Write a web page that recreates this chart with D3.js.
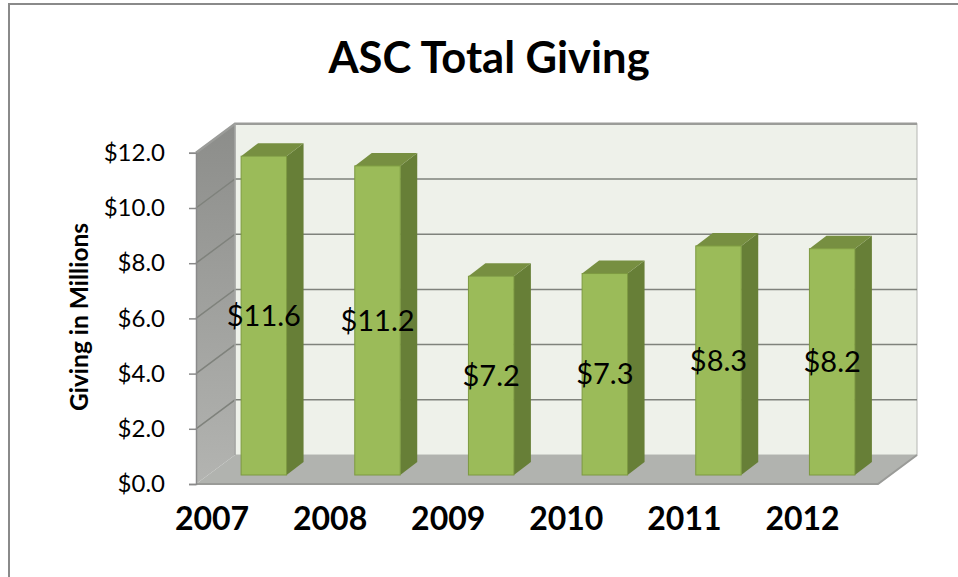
<!DOCTYPE html>
<html>
<head>
<meta charset="utf-8">
<script src="https://cdnjs.cloudflare.com/ajax/libs/d3/7.8.5/d3.min.js"></script>
<style>
  html, body { margin: 0; padding: 0; background: #fff; overflow: hidden; }
  svg { display: block; }
  text { font-family: Lato, "Open Sans", sans-serif; fill: #000; }
</style>
</head>
<body>
<svg id="chart" width="958" height="577"></svg>
<script>
var years = ["2007", "2008", "2009", "2010", "2011", "2012"];
var giving = [11.55, 11.2, 7.2, 7.3, 8.3, 8.2];
var yTicks = [0, 2, 4, 6, 8, 10, 12];

var svg = d3.select("#chart");

// plot box, front left corner of the 3d floor
var left = 196, right = 878, bottom = 484, top_ = 152.8;
var wallDx = 39, wallDy = -29;   // depth of the box
var barDx = 11, barDy = -9;      // where the bars sit on the floor
var sideDx = 17, sideDy = -13;   // depth of a bar

var x = d3.scaleBand().domain(years).range([left, right]).paddingInner(0.6).paddingOuter(0.3);
var y = d3.scaleLinear().domain([0, 12]).range([bottom, top_]);
// the year labels do not line up with the bars in the original, they run wider
var xLabel = d3.scalePoint().domain(years).range([211.5, 802]);

function pts(list) { return list.map(function(p) { return p.join(","); }).join(" "); }

var defs = svg.append("defs");
var wallGrad = defs.append("linearGradient").attr("id", "wallGrad")
    .attr("x1", 0).attr("y1", 0).attr("x2", 0).attr("y2", 1);
wallGrad.append("stop").attr("offset", "0%").attr("stop-color", "#8c8d8a");
wallGrad.append("stop").attr("offset", "100%").attr("stop-color", "#b3b4b1");

// outer frame
svg.append("path")
    .attr("d", "M9,577V4H958")
    .attr("fill", "none").attr("stroke", "#8a8a8a").attr("stroke-width", 2);

// title
svg.append("text").attr("x", 489).attr("y", 73)
    .attr("text-anchor", "middle")
    .attr("font-size", 43.5).attr("font-weight", 700)
    .text("ASC Total Giving");

// back wall
svg.append("rect")
    .attr("x", left + wallDx).attr("y", y(12) + wallDy)
    .attr("width", right - left).attr("height", bottom - y(12))
    .attr("fill", "#eef1ea").attr("stroke", "#b5b6b3").attr("stroke-width", 1);

// side wall
svg.append("polygon")
    .attr("points", pts([[left, y(12)], [left + wallDx, y(12) + wallDy], [left + wallDx, bottom + wallDy], [left, bottom]]))
    .attr("fill", "url(#wallGrad)");

// floor
svg.append("polygon")
    .attr("points", pts([[left, bottom], [left + wallDx, bottom + wallDy], [right + wallDx, bottom + wallDy], [right, bottom]]))
    .attr("fill", "#b1b3af");
svg.append("path")
    .attr("d", "M" + left + "," + bottom + "H" + right + "L" + (right + wallDx) + "," + (bottom + wallDy))
    .attr("fill", "none").attr("stroke", "#9a9b98").attr("stroke-width", 2);

// gridlines, back wall + side wall
var grid = svg.append("g").selectAll("path")
    .data(yTicks.slice(1))
    .enter().append("path")
    .attr("d", function(d) {
        return "M" + left + "," + y(d) + "L" + (left + wallDx) + "," + (y(d) + wallDy) + "H" + (right + wallDx);
    })
    .attr("fill", "none")
    .attr("stroke", function(d) { return d == 12 ? "#9b9c99" : "#7f827c"; })
    .attr("stroke-width", function(d) { return d == 12 ? 2.5 : 1.5; });

svg.append("line")
    .attr("x1", left + wallDx).attr("x2", left + wallDx)
    .attr("y1", y(12) + wallDy).attr("y2", bottom + wallDy)
    .attr("stroke", "#a5a6a3").attr("stroke-width", 1.5);

// y axis
var yAxis = svg.append("g")
    .attr("transform", "translate(" + left + ",0)")
    .call(d3.axisLeft(y).tickValues(yTicks).tickSize(7).tickPadding(24)
        .tickFormat(function(d) { return "$" + d.toFixed(1); }));
yAxis.select(".domain").attr("stroke", "#8a8a8a").attr("stroke-width", 1.5);
yAxis.selectAll("line").attr("stroke", "#8a8a8a").attr("stroke-width", 1.5);
yAxis.selectAll("text").attr("font-size", 24).attr("font-family", "Lato");

// y axis title
svg.append("text")
    .attr("transform", "translate(88,317) rotate(-90)")
    .attr("text-anchor", "middle")
    .attr("font-size", 24.5).attr("font-weight", 700)
    .text("Giving in Millions");

// bars
var bar = svg.append("g").selectAll("g")
    .data(years)
    .enter().append("g")
    .attr("transform", "translate(" + barDx + "," + barDy + ")");

bar.append("polygon")  // right side
    .attr("points", function(d, i) {
        var xr = x(d) + x.bandwidth(), t = y(giving[i]);
        return pts([[xr, t], [xr + sideDx, t + sideDy], [xr + sideDx, bottom + sideDy], [xr, bottom]]);
    })
    .attr("fill", "#677f37");

bar.append("polygon")  // top
    .attr("points", function(d, i) {
        var xl = x(d), xr = xl + x.bandwidth(), t = y(giving[i]);
        return pts([[xl, t], [xl + sideDx, t + sideDy], [xr + sideDx, t + sideDy], [xr, t]]);
    })
    .attr("fill", "#778f41");

bar.append("rect")  // front
    .attr("x", function(d) { return x(d); })
    .attr("y", function(d, i) { return y(giving[i]); })
    .attr("width", x.bandwidth())
    .attr("height", function(d, i) { return bottom - y(giving[i]); })
    .attr("fill", "#9bbb59").attr("stroke", "#7d9a40").attr("stroke-width", 1);

// value labels sit halfway up each bar
bar.append("text")
    .attr("x", function(d) { return x(d) + x.bandwidth() / 2; })
    .attr("y", function(d, i) { return y(giving[i] / 2); })
    .attr("dy", "0.35em")
    .attr("text-anchor", "middle")
    .attr("font-size", 29)
    .text(function(d, i) { return "$" + giving[i].toFixed(1); });

// x axis labels
var xAxis = svg.append("g")
    .attr("transform", "translate(0," + bottom + ")")
    .call(d3.axisBottom(xLabel).tickSize(0).tickPadding(23));
xAxis.select(".domain").remove();
xAxis.selectAll("text").attr("font-size", 32).attr("font-weight", 700).attr("font-family", "Lato");
</script>
</body>
</html>
